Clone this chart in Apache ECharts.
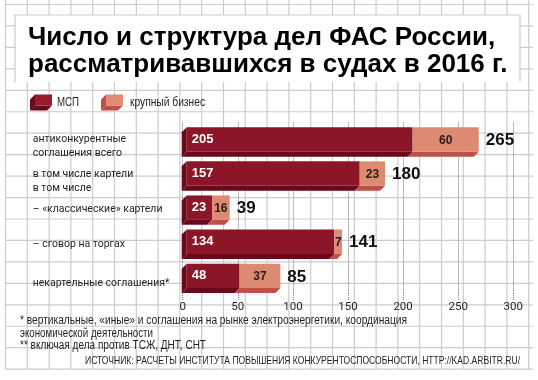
<!DOCTYPE html>
<html><head><meta charset="utf-8">
<script src="https://cdn.jsdelivr.net/npm/echarts@6/dist/echarts.min.js"></script>
<style>html,body{margin:0;padding:0;background:#fff}#c{width:538px;height:380px}</style>
</head><body><div id="c"></div>
<script>
const categories = ['антиконкурентные\nсоглашения всего', 'в том числе картели\nв том числе', '– «классические» картели', '– сговор на торгах', 'некартельные соглашения*'];
const smb = [205, 157, 23, 134, 48];
const large = [60, 23, 16, 7, 37];
const totals = [265, 180, 39, 141, 85];
const xTicks = [0, 50, 100, 150, 200, 250, 300];
const seriesNames = ['МСП', 'крупный бизнес'];
const titleLines = ['Число и структура дел ФАС России,', 'рассматривавшихся в судах в 2016 г.'];
const footnotes = ['* вертикальные, «иные» и соглашения на рынке электроэнергетики, координация', 'экономической деятельности', '** включая дела против ТСЖ, ДНТ, СНТ'];
const sourceText = 'ИСТОЧНИК: РАСЧЕТЫ ИНСТИТУТА ПОВЫШЕНИЯ КОНКУРЕНТОСПОСОБНОСТИ, HTTP://KAD.ARBITR.RU/';

const chart = echarts.init(document.getElementById('c'), null, {renderer: 'canvas'});
const C = {darkFace: '#8c1627', darkSide: '#680a19', lightFace: '#dd8a73', lightSide: '#c04f48', grid: '#cccccc', dot: '#7a7a7a', text: '#231f20'};
const SANS = '"Liberation Sans",Arial,sans-serif';
const D = 5, FH = 24.4, SHIFT = 4;
const labelSpacer = [13, 16, 4, 6, 16];

const mctx = document.createElement('canvas').getContext('2d');
function fitScale(text, font, target) { mctx.font = font; return target / mctx.measureText(text).width; }
function ntext(str, x, y, size, target, align) {
  const font = size + 'px ' + SANS;
  const s = fitScale(str, font, target);
  return {type: 'text', x: x, y: y, scaleX: s, style: {text: str, x: 0, y: 0, fill: C.text, font: font, align: align || 'left', verticalAlign: 'middle'}};
}

function box(x0, x1, cy, face, side, leftSide) {
  const yt = cy - FH / 2, yb = cy + FH / 2;
  const ch = [];
  if (leftSide) ch.push({type: 'polygon', shape: {points: [[x0, yt], [x0, yb], [x0 - D, yb + D], [x0 - D, yt + D]]}, style: {fill: side}});
  ch.push({type: 'polygon', shape: {points: [[x0, yb], [x1, yb], [x1 - D, yb + D], [x0 - D, yb + D]]}, style: {fill: side}});
  ch.push({type: 'rect', shape: {x: x0, y: yt, width: x1 - x0, height: FH}, style: {fill: face}});
  return ch;
}

function render(kind) {
  return function (params, api) {
    const cat = api.value(0), s = api.value(1), e = api.value(2), v = api.value(3);
    const p0 = api.coord([s, cat]), p1 = api.coord([e, cat]);
    const x0 = p0[0] + SHIFT, x1 = p1[0] + SHIFT, cy = p0[1];
    let ch;
    if (kind === 0) {
      ch = box(x0, x1, cy, C.darkFace, C.darkSide, true);
      ch.push({type: 'text', style: {text: String(v), x: x0 + 5, y: cy, fill: '#fff', font: 'bold 13px ' + SANS, align: 'left', verticalAlign: 'middle'}});
    } else {
      ch = box(x0, x1, cy, C.lightFace, C.lightSide, false);
      ch.push({type: 'text', style: {text: String(v), x: (x0 + x1) / 2, y: cy + 1, fill: '#2a1a1a', font: 'bold 12px ' + SANS, align: 'center', verticalAlign: 'middle'}});
      ch.push({type: 'text', style: {text: String(totals[cat]), x: x1 + 7, y: cy + 1, fill: '#111', font: 'bold 17px ' + SANS, align: 'left', verticalAlign: 'middle'}});
    }
    return {type: 'group', children: ch};
  };
}

const gridEls = [];
for (let k = 0; k <= 24; k++) {
  const x = 5.5 + 21.8 * k;
  gridEls.push({type: 'line', z: -2, silent: true, shape: {x1: x, y1: 0, x2: x, y2: 369}, style: {stroke: C.grid, lineWidth: 1.2}});
}
for (let k = 0; k <= 17; k++) {
  const y = 4.5 + 21.45 * k;
  gridEls.push({type: 'line', z: -2, silent: true, shape: {x1: 5.5, y1: y, x2: 533, y2: y}, style: {stroke: C.grid, lineWidth: 1.2}});
}
gridEls.push({type: 'rect', z: -1, silent: true, shape: {x: 15, y: 15, width: 505, height: 67}, style: {fill: '#fff'}});
gridEls.push({type: 'polyline', z: -1, silent: true, shape: {points: [[15, 82], [15, 15], [520, 15], [520, 82]]}, style: {stroke: C.grid, lineWidth: 1.2, fill: null}});

function swatch(x, y, face, side) {
  return {type: 'group', x: x, y: y, children: [
    {type: 'polygon', shape: {points: [[5, 0], [5, 11], [0, 16], [0, 5]]}, style: {fill: side}},
    {type: 'polygon', shape: {points: [[5, 11], [22, 11], [17, 16], [0, 16]]}, style: {fill: side}},
    {type: 'rect', shape: {x: 5, y: 0, width: 17, height: 11}, style: {fill: face}}
  ]};
}
const legendEls = [
  swatch(30, 94.5, '#9a1a2c', C.darkSide),
  ntext(seriesNames[0], 57, 103, 12.5, 22),
  swatch(101, 94.5, '#e08b75', C.lightSide),
  ntext(seriesNames[1], 130, 103, 12.5, 75)
];
const noteEls = [
  ntext(footnotes[0], 20, 321, 12, 387),
  ntext(footnotes[1], 20, 333.5, 12, 133),
  ntext(footnotes[2], 20, 345.5, 12, 186),
  ntext(sourceText, 520, 361, 11.5, 435, 'right')
];

const rich = {t: {fontSize: 10.5, lineHeight: 14, color: C.text, fontFamily: 'Roboto', align: 'left'}};
labelSpacer.forEach((h, i) => { rich['s' + i] = {fontSize: 1, lineHeight: h, align: 'left'}; });

const option = {
  backgroundColor: '#fff',
  animation: false,
  title: {text: titleLines.join('\n'), left: 28, top: 24.5, padding: 0, textStyle: {fontFamily: SANS, fontWeight: 'bold', fontSize: 26, lineHeight: 27, color: '#000'}},
  graphic: {elements: gridEls.concat(legendEls, noteEls)},
  grid: {left: 182.7, right: 24.7, top: 122.4, height: 170.5, containLabel: false, outerBoundsMode: 'none'},
  xAxis: {
    type: 'value', min: xTicks[0], max: xTicks[xTicks.length - 1], interval: xTicks[1] - xTicks[0],
    axisLine: {show: false},
    axisTick: {show: true, length: 7, lineStyle: {type: 'dotted', color: C.dot, width: 1}},
    splitLine: {show: true, lineStyle: {type: 'dotted', color: C.dot, width: 1}},
    axisLabel: {margin: 8, fontSize: 11.5, color: C.text, fontFamily: 'Roboto'}
  },
  yAxis: {
    type: 'category', inverse: true, data: categories,
    axisLine: {show: false}, axisTick: {show: false}, splitLine: {show: false},
    axisLabel: {interval: 0, showMinLabel: true, showMaxLabel: true, hideOverlap: false, align: 'left', margin: 150, overflow: 'none',
      fontSize: 10.5, lineHeight: 14, color: C.text, fontFamily: 'Roboto', rich: rich,
      formatter: (value, index) => '{s' + index + '| }\n' + value.split('\n').map(l => '{t|' + l + '}').join('\n')}
  },
  series: [
    {type: 'custom', name: seriesNames[0], renderItem: render(0), encode: {x: [1, 2], y: 0},
      data: smb.map((v, i) => [i, 0, v, v])},
    {type: 'custom', name: seriesNames[1], renderItem: render(1), encode: {x: [1, 2], y: 0},
      data: large.map((v, i) => [i, smb[i], smb[i] + v, v])}
  ]
};
chart.setOption(option);
</script>
</body></html>
